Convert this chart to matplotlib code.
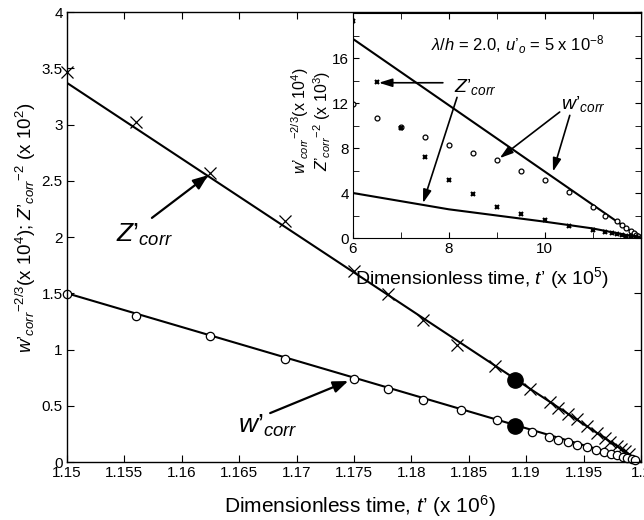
import numpy as np
import matplotlib
matplotlib.use('Agg')
import matplotlib.pyplot as plt

plt.rcParams['font.family'] = ['Liberation Sans', 'DejaVu Sans']
plt.rcParams['mathtext.fontset'] = 'custom'
plt.rcParams['mathtext.rm'] = 'Liberation Sans'
plt.rcParams['mathtext.it'] = 'Liberation Sans:italic'

# main plot data (t' x 1e6)
t_z = [1.15, 1.156, 1.1625, 1.169, 1.175, 1.178, 1.181, 1.184, 1.1873, 1.1903,
       1.1921, 1.1928, 1.1936, 1.1944, 1.1953, 1.1962, 1.1969, 1.1973, 1.1979,
       1.1983, 1.1986, 1.199]
z_vals = [3.47, 3.02, 2.57, 2.14, 1.70, 1.49, 1.26, 1.04, 0.85, 0.65,
          0.53, 0.48, 0.43, 0.38, 0.32, 0.26, 0.21, 0.18, 0.14,
          0.115, 0.095, 0.067]
t_w = [1.15, 1.156, 1.1625, 1.169, 1.175, 1.178, 1.181, 1.1843, 1.1875, 1.1905,
       1.192, 1.1928, 1.1936, 1.1944, 1.1953, 1.1961, 1.1968, 1.1974, 1.1979,
       1.1984, 1.1988, 1.1992, 1.1995]
w_vals = [1.49, 1.30, 1.12, 0.92, 0.74, 0.65, 0.55, 0.46, 0.37, 0.27,
          0.22, 0.20, 0.18, 0.155, 0.135, 0.11, 0.09, 0.075, 0.06,
          0.045, 0.035, 0.025, 0.015]
z_fit_t = [1.15, 1.20]
z_fit = [3.37, 0.0]
w_fit_t = [1.15, 1.20]
w_fit = [1.50, 0.0]
dot_t = [1.189, 1.189]
dot_v = [0.73, 0.32]

# inset data (t' x 1e5)
ti_w = [6.0, 6.5, 7.0, 7.5, 8.0, 8.5, 9.0, 9.5, 10.0, 10.5, 11.0, 11.25, 11.5,
        11.6, 11.7, 11.8, 11.85, 11.9, 11.95]
wi_vals = [11.9, 10.7, 9.9, 9.0, 8.3, 7.6, 6.9, 6.0, 5.2, 4.1, 2.75, 2.0, 1.5,
           1.15, 0.9, 0.6, 0.45, 0.3, 0.15]
ti_z = [6.0, 6.5, 7.0, 7.5, 8.0, 8.5, 9.0, 9.5, 10.0, 10.5, 11.0, 11.25, 11.4,
        11.5, 11.6, 11.7, 11.8, 11.9, 11.95]
zi_vals = [19.3, 13.9, 9.8, 7.2, 5.2, 3.9, 2.8, 2.1, 1.6, 1.1, 0.7, 0.55, 0.45,
           0.35, 0.28, 0.21, 0.14, 0.07, 0.03]
wi_fit_t = [6, 12]
wi_fit = [17.7, 0.0]
zi_fit_t = [6, 8, 10, 11, 12]
zi_fit = [4.0, 2.55, 1.45, 0.85, 0.0]

P = '\u2019'  # prime drawn close to the letter
W = "$w" + P + "_{corr}$"
Z = "$Z" + P + "_{corr}$"

fig = plt.figure(figsize=(6.44, 5.2), dpi=100)
ax = fig.add_axes([0.104, 0.1115, 0.8913, 0.8654])

ax.plot(z_fit_t, z_fit, color='black', lw=1.5)
ax.plot(w_fit_t, w_fit, color='black', lw=1.5)
ax.plot(t_z, z_vals, ls='none', marker='x', ms=8, mew=0.9, color='black', clip_on=False)
ax.plot(t_w, w_vals, ls='none', marker='o', ms=6, mew=0.9, mfc='white', mec='black', clip_on=False)
ax.plot(dot_t, dot_v, ls='none', marker='o', ms=11, color='black')

ax.set_xlim(1.15, 1.20)
ax.set_ylim(0, 4)
ax.set_xticks(np.arange(1.15, 1.2001, 0.005))
ax.set_xticklabels(['1.15', '1.155', '1.16', '1.165', '1.17', '1.175', '1.18',
                    '1.185', '1.19', '1.195', '1.2'])
ax.set_yticks(np.arange(0, 4.01, 0.5))
ax.set_yticklabels(['0', '0.5', '1', '1.5', '2', '2.5', '3', '3.5', '4'])
ax.tick_params(direction='in', top=True, right=True, labelsize=11, length=5, pad=3)
for s in ax.spines.values():
    s.set_linewidth(1.0)

ax.set_xlabel("Dimensionless time, $t" + P + "$ (x 10$^6$)", fontsize=15)
ax.xaxis.set_label_coords(0.51, -0.07)
ax.set_ylabel("$w" + P + "_{corr}{}^{-2/3}$(x 10$^4$); $Z" + P + "_{corr}{}^{-2}$ (x 10$^2$)",
              fontsize=13.5)
ax.yaxis.set_label_coords(-0.05, 0.52)

arr = dict(arrowstyle='-|>,head_length=0.9,head_width=0.35', color='black', lw=1.6,
           shrinkA=0, shrinkB=0)
ax.annotate('', xy=(1.1623, 2.55), xytext=(1.1574, 2.17), arrowprops=arr)
ax.text(1.1568, 2.02, Z, fontsize=19, ha='center', va='center')
ax.annotate('', xy=(1.1745, 0.72), xytext=(1.1677, 0.435), arrowprops=arr)
ax.text(1.1675, 0.32, W, fontsize=19, ha='center', va='center')

# inset
axi = fig.add_axes([0.548, 0.5423, 0.447, 0.4327])
axi.plot(wi_fit_t, wi_fit, color='black', lw=1.5)
axi.plot(zi_fit_t, zi_fit, color='black', lw=1.5)
axi.plot(ti_w, wi_vals, ls='none', marker='o', ms=3.5, mew=0.9, mfc='white', mec='black')
axi.plot(ti_z, zi_vals, ls='none', marker='x', ms=3.5, mew=1.5, color='black')
axi.set_xlim(6, 12)
axi.set_ylim(0, 20)
axi.set_xticks([6, 8, 10])
axi.set_xticks([7, 9, 11, 12], minor=True)
axi.set_yticks([0, 4, 8, 12, 16])
axi.set_yticks([2, 6, 10, 14, 18, 20], minor=True)
axi.tick_params(which='both', direction='in', top=True, right=True, labelsize=11, length=4, pad=3)
axi.set_xlabel("Dimensionless time, $t" + P + "$ (x 10$^5$)", fontsize=14)
axi.xaxis.set_label_coords(0.45, -0.12)
axi.set_ylabel("$w" + P + "_{corr}{}^{-2/3}$(x 10$^4$)\n$Z" + P + "_{corr}{}^{-2}$ (x 10$^3$)",
               fontsize=11.5, linespacing=1.0)
axi.yaxis.set_label_coords(-0.07, 0.52)

axi.text(0.573, 0.86, r"$\lambda/h$ = 2.0, $u" + P + "_o$ = 5 x 10$^{-8}$", transform=axi.transAxes,
         fontsize=12, ha='center', va='center')
arr2 = dict(arrowstyle='-|>,head_length=0.8,head_width=0.25', color='black', lw=1.2,
            shrinkA=0, shrinkB=0)
axi.text(8.55, 13.4, Z, fontsize=14, ha='center', va='center')
axi.annotate('', xy=(6.54, 13.8), xytext=(7.875, 13.8), arrowprops=arr2)
axi.annotate('', xy=(7.46, 3.1), xytext=(8.17, 12.5), arrowprops=arr2)
axi.text(10.8, 11.9, W, fontsize=14, ha='center', va='center')
axi.annotate('', xy=(9.06, 7.1), xytext=(10.31, 11.2), arrowprops=arr2)
axi.annotate('', xy=(10.17, 5.9), xytext=(10.52, 10.9), arrowprops=arr2)

fig.savefig('out.png', dpi=100)
